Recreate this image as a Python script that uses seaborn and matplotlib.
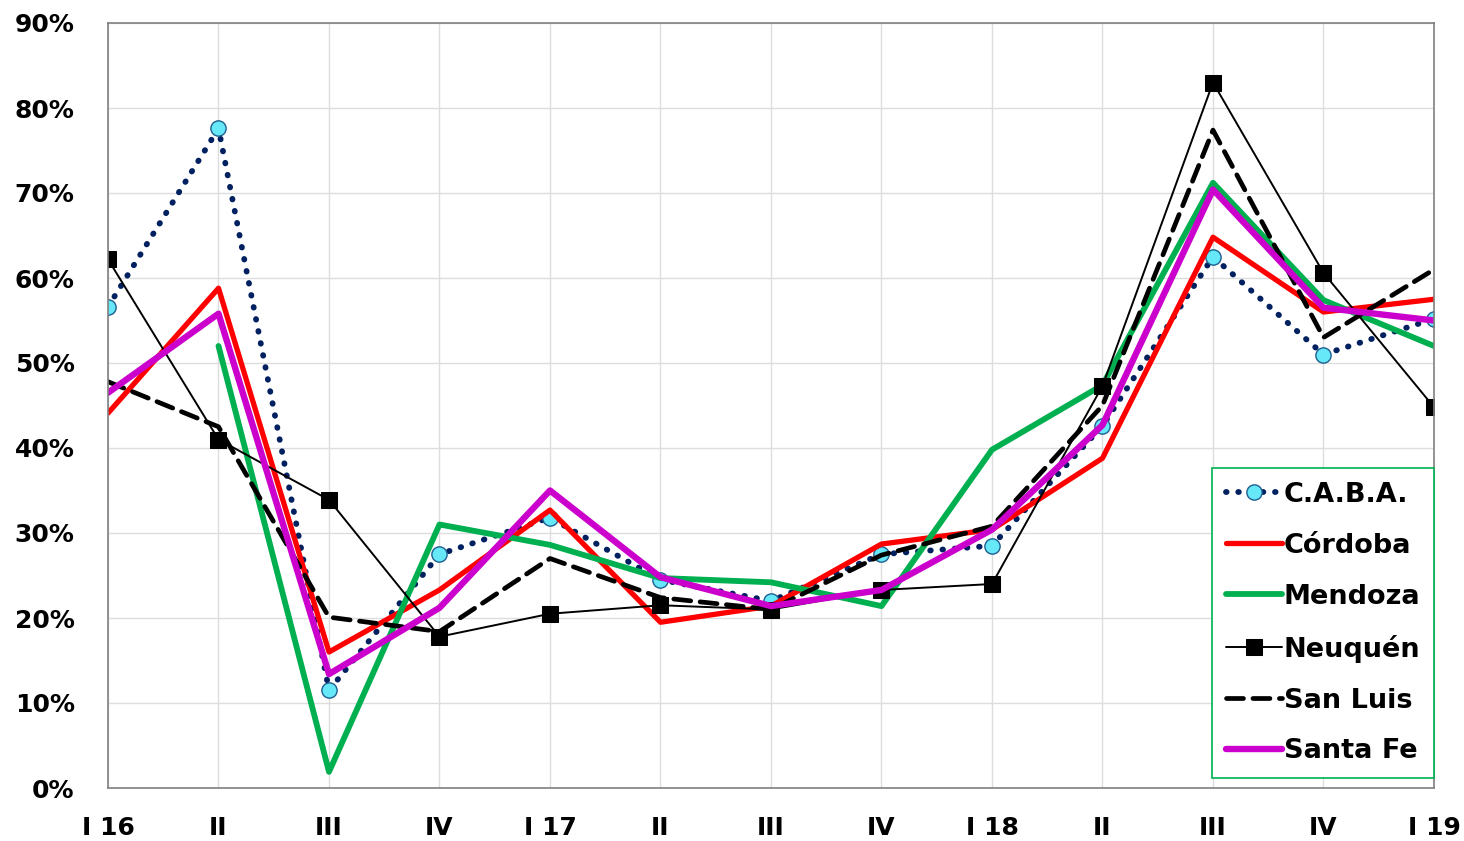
import pandas as pd
import seaborn as sns
import matplotlib.pyplot as plt
from matplotlib.ticker import PercentFormatter

trimestres = ['I 16', 'II', 'III', 'IV', 'I 17', 'II', 'III', 'IV', 'I 18', 'II', 'III', 'IV', 'I 19']

caba = [56.6, 77.6, 11.5, 27.5, 31.8, 24.5, 22.0, 27.5, 28.5, 42.6, 62.5, 51.0, 55.2]
cordoba = [44.1, 58.8, 16.0, 23.3, 32.7, 19.5, 21.4, 28.7, 30.4, 38.8, 64.8, 56.0, 57.5]
mendoza = [None, 52.0, 1.9, 31.0, 28.6, 24.7, 24.2, 21.4, 39.8, 47.4, 71.2, 57.4, 52.0]
neuquen = [62.2, 41.0, 33.9, 17.8, 20.5, 21.5, 21.0, 23.3, 24.0, 47.3, 83.0, 60.6, 44.8]
san_luis = [47.8, 42.5, 20.1, 18.4, 27.0, 22.4, 21.0, 27.4, 30.8, 45.0, 77.4, 53.0, 61.0]
santa_fe = [46.5, 55.8, 13.4, 21.2, 35.0, 24.8, 21.4, 23.3, 30.4, 42.7, 70.4, 56.5, 55.0]

series = {
    'C.A.B.A.': caba,
    'Córdoba': cordoba,
    'Mendoza': mendoza,
    'Neuquén': neuquen,
    'San Luis': san_luis,
    'Santa Fe': santa_fe,
}

estilos = {
    'C.A.B.A.': dict(color='#002060', lw=4.2, ls=(0, (0.1, 2.0)), marker='o', ms=11,
                     mfc='#66E8F8', mec='#1F5F8F', mew=1.0, dash_capstyle='round'),
    'Córdoba': dict(color='#FF0000', lw=3.8),
    'Mendoza': dict(color='#00B050', lw=4.2),
    'Neuquén': dict(color='black', lw=1.4, marker='s', ms=11, mfc='black', mec='black'),
    'San Luis': dict(color='black', lw=3.4, ls=(0, (3.6, 2.0)), dash_capstyle='round'),
    'Santa Fe': dict(color='#CC00CC', lw=4.6),
}

filas = []
for nombre, valores in series.items():
    for i, v in enumerate(valores):
        filas.append({'pos': i, 'valor': v, 'serie': nombre})
df = pd.DataFrame(filas)

sns.set_style('white')
plt.rcParams['font.family'] = ['DejaVu Sans']

fig = plt.figure(figsize=(14.64, 8.41), dpi=100)
ax = fig.add_axes([108 / 1464, 1 - 788 / 841, (1434 - 108) / 1464, (788 - 23) / 841])

for nombre in series:
    sub = df[df['serie'] == nombre].dropna()
    sns.lineplot(data=sub, x='pos', y='valor', ax=ax, label=nombre, sort=False,
                 estimator=None, **estilos[nombre])

ax.set_xlim(0, len(trimestres) - 1)
ax.set_ylim(0, 90)
ax.set_xticks(range(len(trimestres)))
ax.set_xticklabels(trimestres)
ax.set_yticks(range(0, 91, 10))
ax.yaxis.set_major_formatter(PercentFormatter(decimals=0))
ax.set_xlabel('')
ax.set_ylabel('')
ax.grid(True, color='#DDDDDD', lw=1.0)
ax.set_axisbelow(True)
for s in ax.spines.values():
    s.set_color('#808080')
    s.set_linewidth(1.2)
ax.tick_params(axis='both', length=0, labelsize=18, labelcolor='black')
ax.tick_params(axis='x', pad=20)
ax.tick_params(axis='y', pad=24)
for t in ax.get_xticklabels() + ax.get_yticklabels():
    t.set_fontweight('bold')

leg = ax.legend(loc='lower right', bbox_to_anchor=(1.0, (788 - 778) / 765),
                frameon=True, fancybox=False, handlelength=2.1,
                handletextpad=0.05, labelspacing=0.92, borderpad=0.5,
                borderaxespad=0.0, prop={'weight': 'bold', 'size': 19.5})
leg.get_frame().set_edgecolor('#00B050')
leg.get_frame().set_linewidth(1.2)
leg.get_frame().set_alpha(1)
for t in leg.get_texts():
    t.set_color('black')

fig.savefig('out.png', dpi=100)
